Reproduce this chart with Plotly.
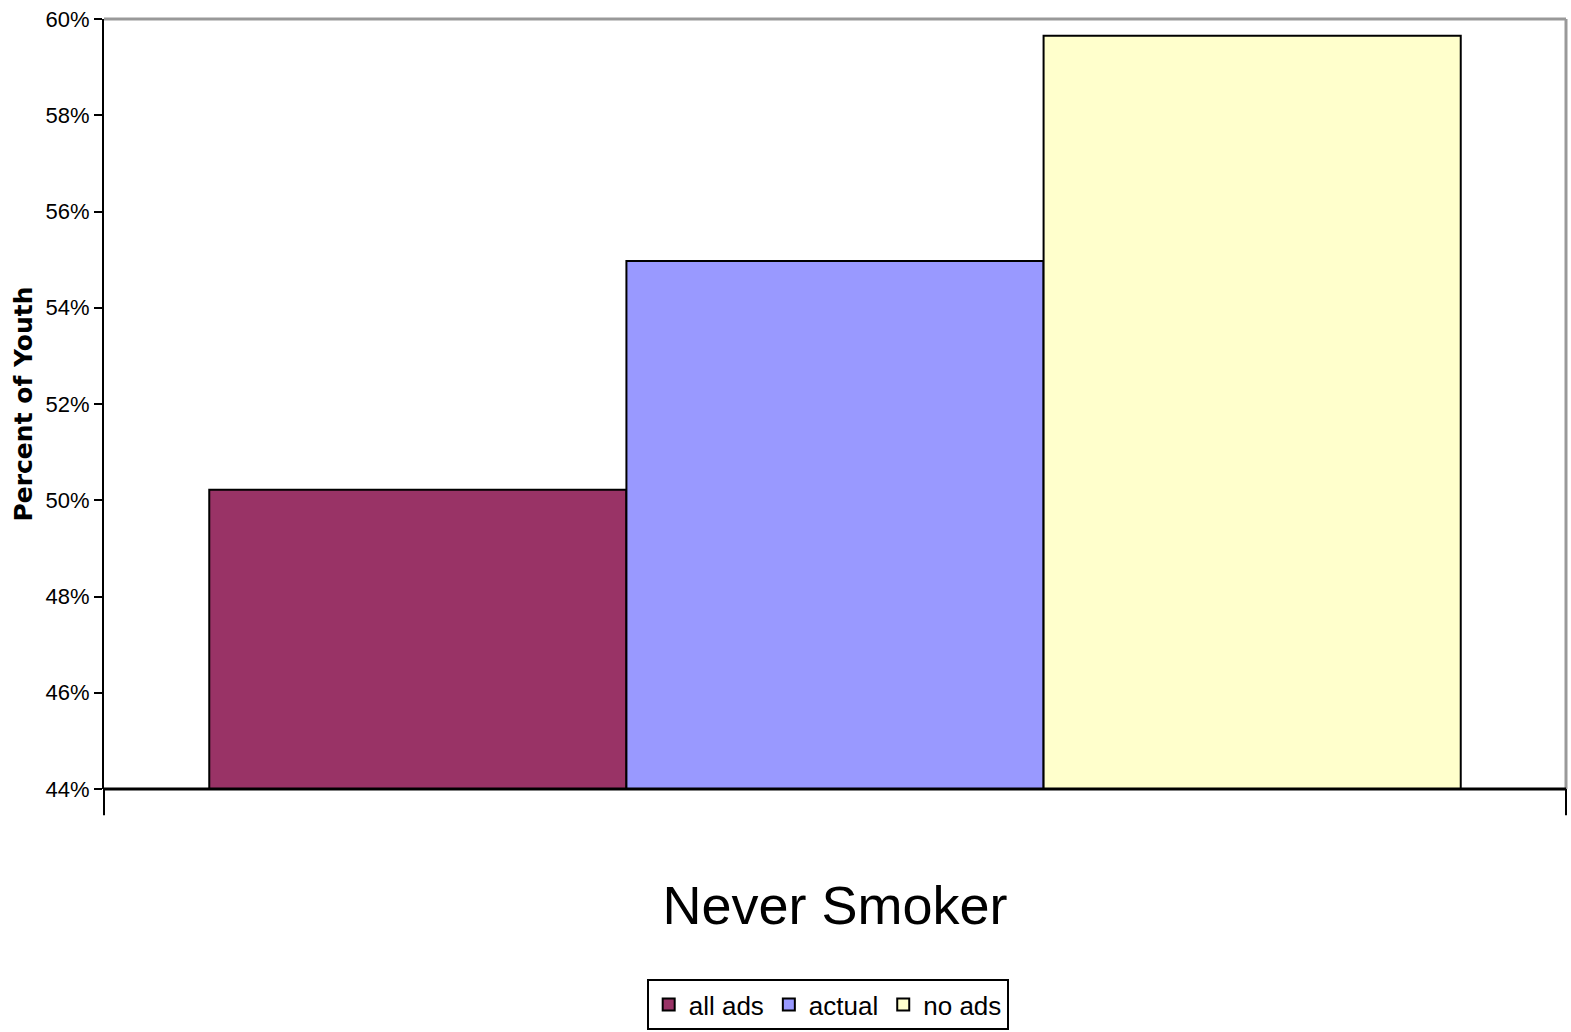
import plotly.graph_objects as go

categories = ["Never Smoker"]
series_names = ["all ads", "actual", "no ads"]
series_values = [[0.5022], [0.5497], [0.5965]]
series_colors = ["#993366", "#9999FF", "#FFFFCC"]
tick_vals = [0.44, 0.46, 0.48, 0.50, 0.52, 0.54, 0.56, 0.58, 0.60]

NARROW = "Liberation Sans Narrow, Arial Narrow, Liberation Sans, Arial, sans-serif"

fig = go.Figure()
for name, vals, col in zip(series_names, series_values, series_colors):
    fig.add_trace(go.Bar(
        x=categories, y=vals, name=name,
        marker=dict(color=col, line=dict(color="black", width=2)),
    ))

fig.update_layout(
    width=1571, height=1032,
    margin=dict(l=104, r=5, t=19, b=243, autoexpand=False),
    paper_bgcolor="white", plot_bgcolor="white",
    barmode="group", bargap=0.144, bargroupgap=0,
    showlegend=True,
    legend=dict(
        orientation="h", x=0.495, xanchor="center", xref="paper",
        y=-0.313, yanchor="bottom",
        bordercolor="black", borderwidth=2,
        font=dict(family=NARROW, size=26, color="black"),
        itemwidth=30, tracegroupgap=0,
    ),
    xaxis=dict(
        showline=False, showgrid=False, ticks="",
        tickfont=dict(family=NARROW, size=54, color="black"),
        ticklabelstandoff=80,
    ),
    yaxis=dict(
        range=[0.44, 0.60], tickvals=tick_vals, tickformat=".0%",
        showgrid=False, zeroline=False,
        showline=True, linecolor="black", linewidth=2,
        ticks="outside", ticklen=8, tickwidth=2, tickcolor="black",
        tickfont=dict(family=NARROW, size=22, color="black"),
        title=dict(text="<b>Percent of Youth</b>",
                   font=dict(family="DejaVu Sans, Verdana, sans-serif", size=25, color="black"),
                   standoff=6),
    ),
    shapes=[
        dict(type="line", xref="paper", yref="paper", x0=0, x1=1, y0=1, y1=1,
             line=dict(color="#999999", width=3)),
        dict(type="line", xref="paper", yref="paper", x0=1, x1=1, y0=0, y1=1,
             line=dict(color="#999999", width=3)),
        dict(type="line", xref="paper", yref="paper", x0=0, x1=1, y0=0, y1=0,
             line=dict(color="black", width=3)),
        dict(type="line", xref="paper", yref="paper", x0=0, x1=0, y0=0, y1=-0.034,
             line=dict(color="black", width=2)),
        dict(type="line", xref="paper", yref="paper", x0=1, x1=1, y0=0, y1=-0.034,
             line=dict(color="black", width=2)),
    ],
)

fig.write_html("out.html")
